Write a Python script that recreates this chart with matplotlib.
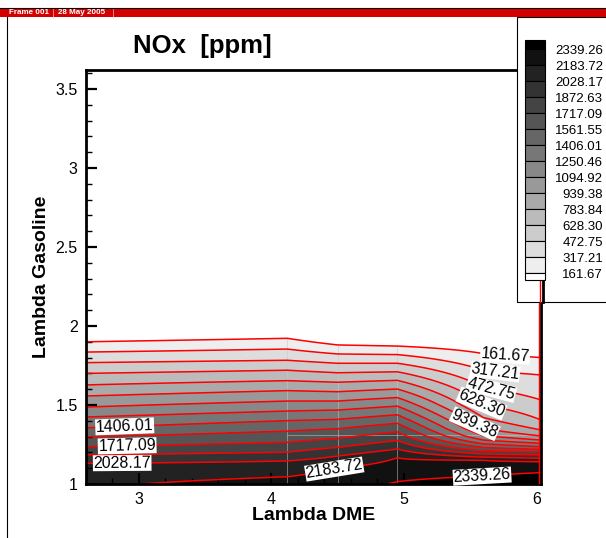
import numpy as np
import matplotlib.pyplot as plt
from matplotlib.patches import Rectangle
from matplotlib.lines import Line2D
from matplotlib.ticker import MultipleLocator, FuncFormatter

plt.rcParams['font.family'] = ['Liberation Sans', 'DejaVu Sans']

# contour levels of NOx [ppm]
levels = [161.67, 317.21, 472.75, 628.30, 783.84, 939.38, 1094.92, 1250.46,
          1406.01, 1561.55, 1717.09, 1872.63, 2028.17, 2183.72, 2339.26]

# lambda DME of the data columns
lam_dme = [2.6, 4.12, 4.5, 4.95, 5.6, 6.034]
# NOx at lambda gasoline = 1 in each column
nox_bottom = [2158, 2255, 2290, 2350, 2430, 2494]
# lambda gasoline where each level crosses the column (161.67 first)
cross1 = [1.900, 1.835, 1.768, 1.700, 1.627, 1.557, 1.487, 1.424, 1.356, 1.299, 1.236, 1.184, 1.131]
cross2 = [1.922, 1.854, 1.783, 1.720, 1.654, 1.591, 1.525, 1.462, 1.401, 1.335, 1.264, 1.201, 1.146, 1.046]
cross3 = [1.880, 1.823, 1.764, 1.704, 1.644, 1.584, 1.525, 1.468, 1.409, 1.350, 1.289, 1.232, 1.177, 1.100]
cross4 = [1.873, 1.819, 1.764, 1.710, 1.656, 1.601, 1.547, 1.493, 1.438, 1.384, 1.330, 1.275, 1.221, 1.166, 1.015]
cross5 = [1.825, 1.718, 1.610, 1.500, 1.420, 1.350, 1.305, 1.278, 1.254, 1.231, 1.210, 1.190, 1.170, 1.150, 1.050]
cross6 = [1.800, 1.690, 1.532, 1.405, 1.342, 1.304, 1.278, 1.258, 1.236, 1.219, 1.203, 1.184, 1.163, 1.141, 1.072]
crossings = [cross1, cross2, cross3, cross4, cross5, cross6]

# contour label positions (lambda DME, lambda gasoline)
label_lev = [1406.01, 1717.09, 2028.17, 2183.72, 2339.26, 161.67, 317.21, 472.75, 628.30, 939.38]
label_x = [2.89, 2.91, 2.87, 4.47, 5.59, 5.76, 5.69, 5.66, 5.59, 5.54]
label_y = [1.348, 1.236, 1.131, 1.11, 1.053, 1.816, 1.711, 1.607, 1.52, 1.386]

y_top = 3.62
step = levels[1] - levels[0]
yy = np.linspace(1.0, y_top, 1000)
cols = []
for bot, cr in zip(nox_bottom, crossings):
    ys = [1.0] + cr[::-1] + [2 * cr[0] - cr[1], y_top]
    zs = [bot] + levels[:len(cr)][::-1] + [levels[0] - step, 0.0]
    cols.append(np.interp(yy, ys, zs))
Z = np.array(cols).T

bands = [-1.0] + levels + [3000.0]
grays = [str(round(1 - k / 15, 3)) for k in range(16)]

W, H = 606, 538
fig = plt.figure(figsize=(W / 100, H / 100), dpi=100)
ax = fig.add_axes([86 / W, 54 / H, 455 / W, 414 / H])
ax.set_xlim(2.6, 6.034)
ax.set_ylim(1.0, y_top)

ax.contourf(lam_dme, yy, Z, levels=bands, colors=grays, antialiased=False)
cs = ax.contour(lam_dme, yy, Z, levels=levels, colors='#ff0000', linewidths=1.1)

# faint mesh lines
for x, c in zip(lam_dme[1:4], crossings[1:4]):
    ax.plot([x, x], [1.0, c[0]], color='#c8c8c8', lw=0.6, alpha=0.6, zorder=1.5)
ax.plot([lam_dme[1], lam_dme[-1]], [1.31, 1.31], color='#c8c8c8', lw=0.6, alpha=0.6, zorder=1.5)

# contour labels: put each on the nearest point of its own level line
for lev, lx, ly in zip(label_lev, label_x, label_y):
    target = ax.transData.transform((lx, ly))
    best = None
    for seg in cs.allsegs[levels.index(lev)]:
        pix = ax.transData.transform(seg)
        s = np.concatenate([[0], np.cumsum(np.hypot(*np.diff(pix, axis=0).T))])
        if s[-1] < 2:
            continue
        t = np.arange(0, s[-1], 1.0)
        dense = np.column_stack([np.interp(t, s, pix[:, 0]), np.interp(t, s, pix[:, 1])])
        d = np.hypot(dense[:, 0] - target[0], dense[:, 1] - target[1])
        i = int(np.argmin(d))
        if best is None or d[i] < best[0]:
            best = (d[i], dense, i)
    _, dense, i = best
    a, b = dense[max(i - 20, 0)], dense[min(i + 20, len(dense) - 1)]
    ang = np.degrees(np.arctan2(b[1] - a[1], b[0] - a[0]))
    if ang > 90:
        ang -= 180
    if ang < -90:
        ang += 180
    px, py = ax.transData.inverted().transform(dense[i])
    ax.text(px, py, '%.2f' % lev, fontsize=11.5, rotation=ang, rotation_mode='anchor',
            ha='center', va='center', zorder=4,
            bbox=dict(facecolor='white', edgecolor='none', pad=0.3))

# red boundary line on the right edge
ax.plot([0.996, 0.996], [0, 1], color='red', lw=1, transform=ax.transAxes, zorder=3)

ax.xaxis.set_major_locator(MultipleLocator(1))
ax.xaxis.set_minor_locator(MultipleLocator(0.2))
ax.yaxis.set_major_locator(MultipleLocator(0.5))
ax.yaxis.set_minor_locator(MultipleLocator(0.1))
fmt = FuncFormatter(lambda v, p: '%g' % v)
ax.xaxis.set_major_formatter(fmt)
ax.yaxis.set_major_formatter(fmt)
ax.tick_params(which='major', direction='in', length=8, width=1.6, labelsize=11.5, pad=6)
ax.tick_params(which='minor', direction='in', length=4.5, width=1)
for s in ax.spines.values():
    s.set_linewidth(2)

fig.text(314 / W, 1 - 515 / H, 'Lambda DME', ha='center', va='center', fontsize=14, fontweight='bold')
fig.text(42 / W, 1 - 277 / H, 'Lambda Gasoline', ha='center', va='center', rotation=90,
         fontsize=14, fontweight='bold')
fig.text(133 / W, 1 - 46 / H, 'NOx  [ppm]', ha='left', va='center', fontsize=18.5, fontweight='bold')

# header bar and frame
fig.add_artist(Rectangle((0, 1 - 17 / H), 1, 9 / H, facecolor='#d40000', edgecolor='none',
                         transform=fig.transFigure))
fig.add_artist(Line2D([0, 1], [1 - 7.5 / H, 1 - 7.5 / H], color='black', lw=0.8, transform=fig.transFigure))
fig.add_artist(Line2D([7 / W, 7 / W], [0, 1 - 17 / H], color='black', lw=0.8, transform=fig.transFigure))
fig.text(9 / W, 1 - 12.5 / H, 'Frame 001', color='white', fontsize=5.8, fontweight='bold', va='center')
fig.text(58 / W, 1 - 12.5 / H, '28 May 2005', color='white', fontsize=5.8, fontweight='bold', va='center')
for sx in [53, 113]:
    fig.add_artist(Line2D([sx / W, sx / W], [1 - 17 / H, 1 - 9 / H], color='#ffb0b0', lw=0.5,
                          transform=fig.transFigure))

# legend
fig.add_artist(Rectangle((517 / W, 1 - 302 / H), 100 / W, 285 / H, facecolor='white',
                         edgecolor='black', lw=0.8, transform=fig.transFigure, zorder=5))
fig.add_artist(Line2D([540 / W] * 2, [1 - 302 / H, 1 - 280 / H], color='red', lw=1,
                      transform=fig.transFigure, zorder=6))
fig.add_artist(Line2D([542.5 / W] * 2, [1 - 302 / H, 1 - 280 / H], color='black', lw=2,
                      transform=fig.transFigure, zorder=6))
edges = [40] + [49 + 16 * k for k in range(15)] + [280]
for k in range(16):
    fig.add_artist(Rectangle((525 / W, 1 - edges[k + 1] / H), 20 / W, (edges[k + 1] - edges[k]) / H,
                             facecolor=grays[15 - k], edgecolor='black', lw=0.8,
                             transform=fig.transFigure, zorder=7))
for i, lev in enumerate(levels[::-1]):
    fig.text(603 / W, 1 - (51 + i * 16) / H, '%.2f' % lev, ha='right', va='center',
             fontsize=9.5, zorder=8)

fig.savefig('out.png', dpi=100)
